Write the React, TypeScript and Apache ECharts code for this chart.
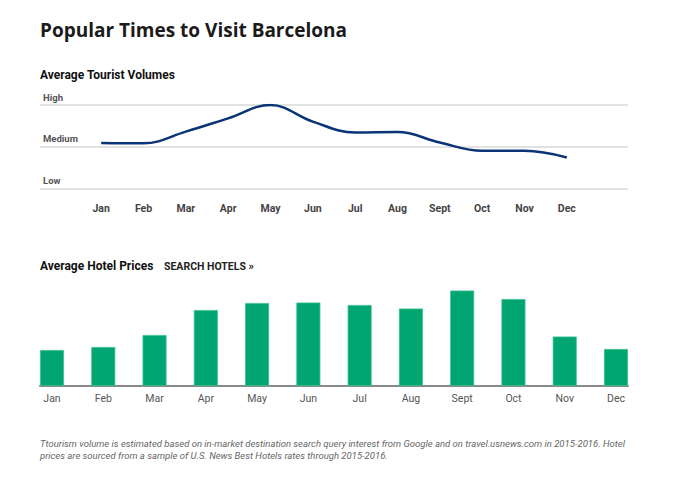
import React, { useEffect, useRef } from "react";
import * as echarts from "echarts";

const months = ["Jan", "Feb", "Mar", "Apr", "May", "Jun", "Jul", "Aug", "Sept", "Oct", "Nov", "Dec"];
const volumeLevels = ["Low", "Medium", "High"];
const touristVolume = [1.09, 1.08, 1.36, 1.68, 2.0, 1.6, 1.34, 1.35, 1.1, 0.9, 0.9, 0.74];
const hotelPrices = [36, 39, 51, 76, 83, 83.5, 81, 77.5, 95.5, 87, 49.5, 37];

const footnote =
  "Ttourism volume is estimated based on in-market destination search query interest from Google and on travel.usnews.com in 2015-2016. Hotel\nprices are sourced from a sample of U.S. News Best Hotels rates through 2015-2016.";

export default function App() {
  const ref = useRef<HTMLDivElement>(null);
  useEffect(() => {
    if (!ref.current) return;
    const chart = echarts.init(ref.current, null, { renderer: "svg" });
    const font = "Roboto, 'Noto Sans', sans-serif";
    chart.setOption({
      animation: false,
      backgroundColor: "#ffffff",
      textStyle: { fontFamily: font },
      title: [
        {
          text: "Popular Times to Visit Barcelona",
          left: 40,
          top: 20,
          padding: 0,
          textStyle: { fontFamily: "'Open Sans', sans-serif", fontWeight: "bold", fontSize: 19, color: "#1a1a1a" },
        },
        {
          text: "Average Tourist Volumes",
          left: 40,
          top: 68.5,
          padding: 0,
          textStyle: { fontFamily: font, fontWeight: "bold", fontSize: 12, color: "#111" },
        },
        {
          text: "Average Hotel Prices",
          left: 40,
          top: 259.5,
          padding: 0,
          textStyle: { fontFamily: font, fontWeight: "bold", fontSize: 12, color: "#111" },
        },
        {
          text: "SEARCH HOTELS »",
          left: 164,
          top: 261,
          padding: 0,
          textStyle: { fontFamily: font, fontWeight: "bold", fontSize: 10.5, color: "#222" },
        },
        {
          text: footnote,
          left: 40,
          top: 437,
          padding: 0,
          textStyle: { fontFamily: font, fontStyle: "italic", fontWeight: "normal", fontSize: 9.5, lineHeight: 12, color: "#666" },
        },
      ],
      grid: [
        { left: 80, width: 508, top: 105, height: 83.3 },
        { left: 40, width: 588, top: 105, height: 83.3 },
        { left: 52, width: 564, top: 286, height: 100 },
        { left: 40, width: 588, top: 286, height: 100 },
      ],
      xAxis: [
        {
          gridIndex: 0,
          type: "category",
          data: months,
          boundaryGap: true,
          axisLine: { show: false },
          axisTick: { show: false },
          axisLabel: { fontSize: 10.5, fontWeight: "bold", color: "#444", margin: 15 },
        },
        { gridIndex: 1, type: "value", min: 0, max: 1, show: false },
        {
          gridIndex: 2,
          type: "category",
          data: months,
          boundaryGap: false,
          axisLine: { show: false },
          axisTick: { show: false },
          axisLabel: { fontSize: 10.5, color: "#555", margin: 7 },
        },
        {
          gridIndex: 3,
          type: "value",
          min: 0,
          max: 1,
          axisLine: { show: true, lineStyle: { color: "#8a8a8a", width: 2 } },
          axisTick: { show: false },
          axisLabel: { show: false },
          splitLine: { show: false },
        },
      ],
      yAxis: [
        { gridIndex: 0, type: "value", min: 0, max: 2, show: false },
        {
          gridIndex: 1,
          type: "value",
          min: 0,
          max: 2,
          interval: 1,
          axisLine: { show: false },
          axisTick: { show: false },
          splitLine: { show: true, lineStyle: { color: "#e2e2e2", width: 2 } },
          axisLabel: {
            inside: true,
            align: "left",
            verticalAlign: "bottom",
            margin: 3,
            padding: [0, 0, 3, 0],
            fontSize: 9.5,
            fontWeight: "bold",
            color: "#555",
            formatter: (v: number) => volumeLevels[Math.round(v)] ?? "",
          },
        },
        { gridIndex: 2, type: "value", min: 0, max: 100, show: false },
        { gridIndex: 3, type: "value", min: 0, max: 100, show: false },
      ],
      series: [
        {
          type: "line",
          xAxisIndex: 0,
          yAxisIndex: 0,
          data: touristVolume,
          smooth: 0.4,
          showSymbol: false,
          symbol: "none",
          lineStyle: { color: "#0b3478", width: 2.5 },
        },
        {
          type: "bar",
          xAxisIndex: 2,
          yAxisIndex: 2,
          data: hotelPrices,
          barWidth: 24,
          itemStyle: { color: "#00a572", borderColor: "#3dbf94", borderWidth: 0.8 },
          z: 3,
        },
      ],
    });
    return () => chart.dispose();
  }, []);
  return <div ref={ref} style={{ position: "fixed", left: 0, top: 0, width: 700, height: 482 }} />;
}
